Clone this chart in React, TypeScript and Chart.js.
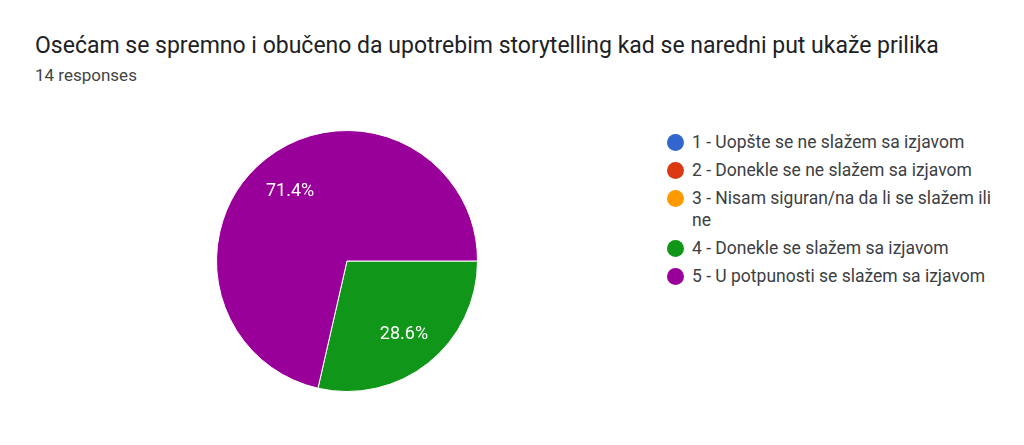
import React, { useEffect, useRef } from "react";
import { Chart, registerables } from "chart.js";

Chart.register(...registerables);

const TITLE = "Osećam se spremno i obučeno da upotrebim storytelling kad se naredni put ukaže prilika";
const SUBTITLE = "14 responses";
const categories = [
  "1 - Uopšte se ne slažem sa izjavom",
  "2 - Donekle se ne slažem sa izjavom",
  "3 - Nisam siguran/na da li se slažem ili ne",
  "4 - Donekle se slažem sa izjavom",
  "5 - U potpunosti se slažem sa izjavom",
];
const counts = [0, 0, 0, 4, 10];
const colors = ["#3366cc", "#dc3912", "#ff9900", "#109618", "#990099"];

const FONT = "Roboto, 'Noto Sans', Arial, sans-serif";

const sliceLabels = {
  id: "sliceLabels",
  afterDatasetsDraw(chart: any) {
    const ctx = chart.ctx;
    const meta = chart.getDatasetMeta(0);
    const data = chart.data.datasets[0].data as number[];
    const total = data.reduce((a, b) => a + b, 0);
    ctx.save();
    ctx.fillStyle = "#ffffff";
    ctx.font = `18px ${FONT}`;
    ctx.textAlign = "center";
    ctx.textBaseline = "middle";
    meta.data.forEach((arc: any, i: number) => {
      const v = data[i];
      if (!v) return;
      const { x, y, startAngle, endAngle, outerRadius } = arc.getProps(
        ["x", "y", "startAngle", "endAngle", "outerRadius"],
        true
      );
      const mid = (startAngle + endAngle) / 2;
      const r = outerRadius * 0.7;
      const txt = ((v / total) * 100).toFixed(1) + "%";
      ctx.fillText(txt, x + Math.cos(mid) * r, y + Math.sin(mid) * r + 2);
    });
    ctx.restore();
  },
};

export default function App() {
  const ref = useRef<HTMLCanvasElement | null>(null);
  useEffect(() => {
    if (!ref.current) return;
    const chart = new Chart(ref.current, {
      type: "pie",
      data: {
        labels: categories,
        datasets: [
          {
            data: counts,
            backgroundColor: colors,
            borderColor: "#ffffff",
            borderWidth: 1,
          },
        ],
      },
      options: {
        animation: false,
        responsive: false,
        maintainAspectRatio: false,
        rotation: 90,
        layout: { padding: 0 },
        plugins: {
          legend: { display: false },
          tooltip: { enabled: false },
          title: { display: false },
        },
      },
      plugins: [sliceLabels],
    });
    return () => chart.destroy();
  }, []);

  return (
    <div
      style={{
        position: "absolute",
        left: 0,
        top: 0,
        width: 1024,
        height: 445,
        background: "#ffffff",
        fontFamily: FONT,
        overflow: "hidden",
      }}
    >
      <div
        style={{
          position: "absolute",
          left: 35,
          top: 32,
          fontSize: 23,
          color: "#202124",
          whiteSpace: "nowrap",
        }}
      >
        {TITLE}
      </div>
      <div
        style={{
          position: "absolute",
          left: 35,
          top: 65,
          fontSize: 17,
          color: "#444444",
        }}
      >
        {SUBTITLE}
      </div>
      <canvas
        ref={ref}
        width={262}
        height={262}
        style={{ position: "absolute", left: 216, top: 130, width: 262, height: 262 }}
      />
      <div style={{ position: "absolute", left: 667, top: 131, width: 340 }}>
        {categories.map((c, i) => (
          <div
            key={c}
            style={{
              display: "flex",
              alignItems: "flex-start",
              marginBottom: 6,
              fontSize: 17.5,
              lineHeight: "22px",
              color: "#3c4043",
            }}
          >
            <span
              style={{
                flex: "0 0 auto",
                width: 17,
                height: 17,
                borderRadius: "50%",
                background: colors[i],
                marginTop: 3,
                marginRight: 8,
              }}
            />
            <span style={{ width: 302 }}>{c}</span>
          </div>
        ))}
      </div>
    </div>
  );
}
